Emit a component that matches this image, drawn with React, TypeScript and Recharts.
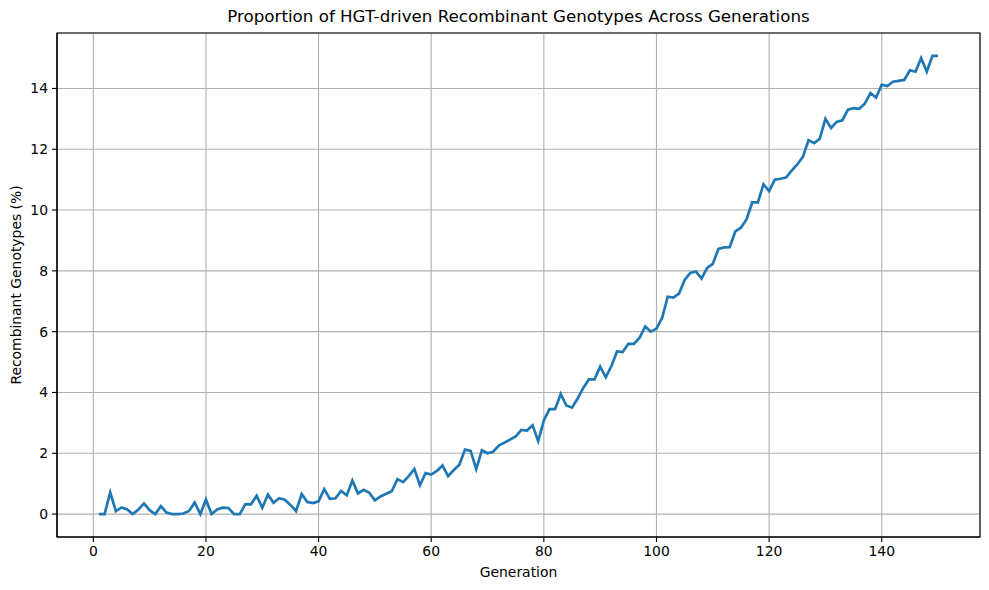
import React from 'react';
import { LineChart, Line, XAxis, YAxis, CartesianGrid, ReferenceArea, Label } from 'recharts';

const generations: number[] = Array.from({ length: 150 }, (_, i) => i + 1);
const recombinantPct: number[] = [
  0, 0, 0.71, 0.1, 0.22, 0.15, 0, 0.15, 0.35, 0.13,
  0, 0.26, 0.05, 0, 0, 0.02, 0.1, 0.38, 0, 0.48,
  0, 0.15, 0.21, 0.2, 0, 0, 0.33, 0.32, 0.6, 0.21,
  0.64, 0.37, 0.52, 0.47, 0.3, 0.1, 0.66, 0.4, 0.36, 0.42,
  0.82, 0.5, 0.52, 0.76, 0.62, 1.1, 0.68, 0.8, 0.7, 0.45,
  0.58, 0.67, 0.75, 1.15, 1.05, 1.25, 1.48, 0.95, 1.35, 1.3,
  1.42, 1.6, 1.25, 1.45, 1.62, 2.12, 2.08, 1.48, 2.1, 2.0,
  2.05, 2.25, 2.35, 2.45, 2.55, 2.77, 2.75, 2.92, 2.4, 3.08,
  3.45, 3.45, 3.95, 3.57, 3.5, 3.8, 4.15, 4.43, 4.43, 4.85,
  4.5, 4.87, 5.35, 5.33, 5.6, 5.6, 5.8, 6.17, 6.0, 6.1,
  6.45, 7.15, 7.12, 7.25, 7.7, 7.93, 7.98, 7.75, 8.1, 8.23,
  8.72, 8.77, 8.78, 9.3, 9.42, 9.7, 10.25, 10.25, 10.85, 10.62,
  11.0, 11.03, 11.07, 11.3, 11.5, 11.75, 12.3, 12.2, 12.35, 13.0,
  12.7, 12.9, 12.95, 13.3, 13.35, 13.33, 13.5, 13.85, 13.7, 14.12,
  14.08, 14.22, 14.25, 14.28, 14.6, 14.55, 15.0, 14.55, 15.07, 15.07,
];
const xTicks: number[] = [0, 20, 40, 60, 80, 100, 120, 140];
const yTicks: number[] = [0, 2, 4, 6, 8, 10, 12, 14];

const data = generations.map((g, i) => ({ gen: g, pct: recombinantPct[i] }));

const X_DOMAIN: [number, number] = [-6.45, 157.45];
const Y_DOMAIN: [number, number] = [-0.754, 15.824];
const FONT = '"DejaVu Sans", sans-serif';
const tickStyle = { fontFamily: FONT, fontSize: 13.9, fill: '#000' };

export default function App() {
  return (
    <div style={{ position: 'absolute', left: 0, top: 0, width: 989, height: 590, background: '#fff' }}>
      <div
        style={{
          position: 'absolute',
          left: 57,
          width: 923,
          top: 6,
          textAlign: 'center',
          fontFamily: FONT,
          fontSize: 16.7,
          color: '#000',
          lineHeight: '20px',
        }}
      >
        Proportion of HGT-driven Recombinant Genotypes Across Generations
      </div>
      <LineChart
        width={989}
        height={590}
        data={data}
        margin={{ top: 33, right: 9, bottom: 0, left: 0 }}
      >
        <CartesianGrid stroke="#b0b0b0" strokeWidth={1.1} />
        <XAxis
          dataKey="gen"
          type="number"
          domain={X_DOMAIN}
          ticks={xTicks}
          allowDataOverflow
          height={53}
          tickSize={5}
          tickMargin={4}
          tick={tickStyle}
          tickLine={{ stroke: '#000', strokeWidth: 1.1 }}
          axisLine={{ stroke: '#000', strokeWidth: 1.1 }}
        >
          <Label
            content={() => (
              <text x={518.5} y={577} textAnchor="middle" fontFamily={FONT} fontSize={13.9} fill="#000">
                Generation
              </text>
            )}
          />
        </XAxis>
        <YAxis
          type="number"
          domain={Y_DOMAIN}
          ticks={yTicks}
          allowDataOverflow
          width={57}
          tickSize={5}
          tickMargin={4}
          tick={tickStyle}
          tickLine={{ stroke: '#000', strokeWidth: 1.1 }}
          axisLine={{ stroke: '#000', strokeWidth: 1.1 }}
        >
          <Label
            content={() => (
              <text
                x={21}
                y={285}
                transform="rotate(-90 21 285)"
                textAnchor="middle"
                fontFamily={FONT}
                fontSize={13.9}
                fill="#000"
              >
                Recombinant Genotypes (%)
              </text>
            )}
          />
        </YAxis>
        <ReferenceArea
          x1={X_DOMAIN[0]}
          x2={X_DOMAIN[1]}
          y1={Y_DOMAIN[0]}
          y2={Y_DOMAIN[1]}
          fill="none"
          stroke="#000"
          strokeWidth={1.1}
          ifOverflow="visible"
        />
        <Line
          type="linear"
          dataKey="pct"
          stroke="#1f77b4"
          strokeWidth={2.7}
          dot={false}
          activeDot={false}
          isAnimationActive={false}
        />
      </LineChart>
    </div>
  );
}
